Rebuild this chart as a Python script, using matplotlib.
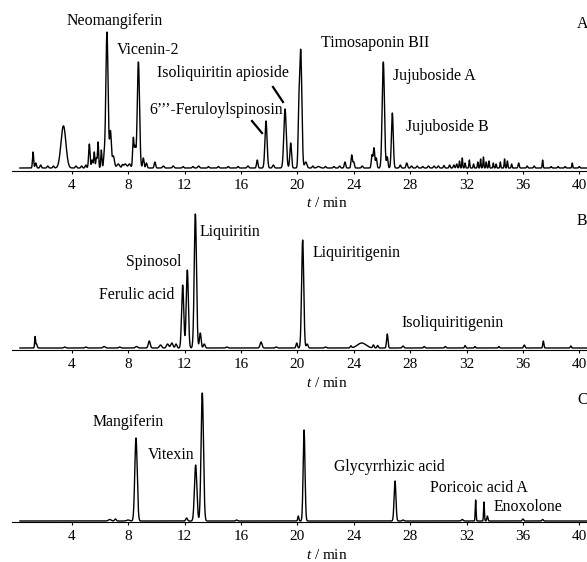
import numpy as np
import matplotlib
matplotlib.use("Agg")
import matplotlib.pyplot as plt

plt.rcParams['font.family'] = ['Liberation Serif', 'DejaVu Serif']
plt.rcParams['mathtext.fontset'] = 'custom'
plt.rcParams['mathtext.it'] = 'Liberation Serif:italic'
plt.rcParams['mathtext.rm'] = 'Liberation Serif'

# ---------------- data (retention time [min], height [a.u.], width sigma [min]) ----
peaks_a_t = [1.26, 1.45, 1.8, 2.3, 2.7, 3.3, 3.45, 4.3, 4.7, 5.0, 5.25, 5.45, 5.6, 5.75, 5.87, 6.1, 6.3,
             6.5, 6.75, 6.95, 7.3, 7.6, 7.8, 8.1, 8.37, 8.5, 8.73, 9.08, 9.3, 9.9, 10.5, 11.2, 11.9,
             12.6, 13.0, 13.7, 14.4, 15.1, 15.8, 16.5, 17.16, 17.78, 18.3, 19.13, 19.53, 20.1,
             20.24, 20.6, 21.1, 21.5, 22.0, 22.6, 23.0, 23.38, 23.86, 24.0, 24.6, 25.3, 25.44,
             25.6, 26.1, 26.38, 26.74, 27.3, 27.76, 28.1, 28.5, 28.9, 29.3, 29.7, 30.0, 30.4,
             30.8, 31.1, 31.3, 31.5, 31.7, 31.9, 32.2, 32.5, 32.8, 33.0, 33.2, 33.4, 33.6, 33.9,
             34.1, 34.4, 34.7, 34.9, 35.2, 35.7, 36.3, 36.8, 37.4, 38.0, 38.5, 39.0, 39.5, 40.0]
peaks_a_h = [16, 5, 3, 2, 2, 12, 34, 2, 2, 3, 24, 8, 16, 10, 26, 18, 10,
             136, 36, 12, 4, 3, 4, 4, 30, 20, 106, 10, 5, 6, 2, 2, 1.5,
             1.5, 2, 1.5, 1.5, 1.5, 1.5, 2, 8, 47, 3, 59, 25, 40,
             118, 6, 2, 1.5, 1.5, 1.5, 2, 6, 13, 6, 2, 13, 20,
             10, 106, 11, 55, 3, 5, 2, 2, 1.5, 2, 2, 2, 2.5,
             3, 3, 4, 7, 10, 5, 8, 4, 6, 9, 11, 6, 7, 5,
             4, 6, 9, 7, 4, 5, 2, 2, 8, 1.5, 1.5, 1.5, 5, 1.5]
peaks_a_w = [0.04, 0.05, 0.05, 0.05, 0.05, 0.15, 0.16, 0.05, 0.05, 0.05, 0.05, 0.05, 0.04, 0.04, 0.04, 0.04, 0.05,
             0.08, 0.06, 0.08, 0.1, 0.05, 0.1, 0.08, 0.05, 0.05, 0.08, 0.05, 0.05, 0.05, 0.06, 0.06, 0.05,
             0.05, 0.06, 0.05, 0.05, 0.05, 0.05, 0.06, 0.05, 0.075, 0.06, 0.085, 0.06, 0.05,
             0.08, 0.08, 0.05, 0.1, 0.05, 0.05, 0.05, 0.05, 0.05, 0.05, 0.05, 0.05, 0.05,
             0.05, 0.08, 0.05, 0.065, 0.05, 0.05, 0.05, 0.05, 0.05, 0.05, 0.05, 0.05, 0.04,
             0.04, 0.04, 0.04, 0.03, 0.03, 0.03, 0.03, 0.03, 0.03, 0.03, 0.03, 0.03, 0.03, 0.03,
             0.03, 0.03, 0.03, 0.03, 0.03, 0.04, 0.04, 0.04, 0.03, 0.04, 0.04, 0.04, 0.03, 0.04]

peaks_b_t = [1.4, 1.5, 3.5, 5.0, 6.3, 7.4, 8.6, 9.5, 10.3, 10.8, 11.1, 11.4, 11.87, 12.2, 12.77, 13.12,
             13.4, 15.0, 17.43, 18.5, 19.96, 20.38, 20.7, 22.0, 23.8, 24.57, 25.4, 25.7, 26.38, 27.5,
             29.0, 30.5, 31.9, 32.6, 34.3, 36.1, 37.45, 39.4]
peaks_b_h = [11, 4, 1, 1, 1.5, 1, 1.5, 7, 3, 4, 5, 4, 63, 78, 134, 15,
             4, 1, 6, 1, 5, 108, 4, 1, 2, 5, 3, 2.5, 14, 2,
             1.5, 1.5, 2.5, 1.5, 1.5, 3, 7, 2]
peaks_b_w = [0.03, 0.05, 0.06, 0.06, 0.08, 0.06, 0.08, 0.07, 0.08, 0.08, 0.08, 0.06, 0.075, 0.075, 0.08, 0.06,
             0.06, 0.06, 0.07, 0.06, 0.05, 0.075, 0.06, 0.06, 0.05, 0.3, 0.05, 0.05, 0.05, 0.06,
             0.05, 0.05, 0.04, 0.04, 0.04, 0.05, 0.04, 0.04]

peaks_c_t = [6.7, 7.1, 8.0, 8.56, 12.15, 12.79, 13.26, 15.7, 20.07, 20.48, 26.93, 27.5, 31.7,
             32.65, 33.24, 33.48, 36.0, 37.4]
peaks_c_h = [1.5, 2, 1, 83, 3, 56, 128, 1, 5, 91, 40, 1, 1.5, 21, 19, 5, 2, 1.5]
peaks_c_w = [0.1, 0.06, 0.1, 0.085, 0.06, 0.085, 0.085, 0.06, 0.04, 0.065, 0.065, 0.06, 0.06,
             0.03, 0.03, 0.04, 0.05, 0.05]

# annotations: (label, t, height)
labels_a = ["Neomangiferin", "Vicenin-2", "Isoliquiritin apioside", "6\u2019\u2019\u2019-Feruloylspinosin",
            "Timosaponin BII", "Jujuboside A", "Jujuboside B"]
labels_a_t = [3.66, 7.2, 10.05, 9.5, 21.7, 26.8, 27.7]
labels_a_h = [147, 118, 95, 58, 125, 92, 41]

labels_b = ["Ferulic acid", "Spinosol", "Liquiritin", "Liquiritigenin", "Isoliquiritigenin"]
labels_b_t = [5.95, 7.85, 13.1, 21.1, 27.4]
labels_b_h = [53, 86, 116, 95, 25]

labels_c = ["Mangiferin", "Vitexin", "Glycyrrhizic acid", "Poricoic acid A", "Enoxolone"]
labels_c_t = [5.5, 9.4, 22.6, 29.4, 33.95]
labels_c_h = [99, 66, 54, 33, 14]

ticks = [4, 8, 12, 16, 20, 24, 28, 32, 36, 40]
tick_labels = [str(t) for t in ticks]
panel_names = ["A", "B", "C"]

# --------------------------------------------------------------------------------
W, H = 587, 562
fig = plt.figure(figsize=(W / 100, H / 100), dpi=100)

t = np.linspace(0.33, 41, 8000)


def trace(pt, ph, pw):
    y = np.zeros_like(t)
    for a, b, c in zip(pt, ph, pw):
        y += b * np.exp(-0.5 * ((t - a) / c) ** 2)
    return y


# pixel geometry: (axis line y, top y, baseline offset px)
geom = [(171, 0, 3), (350, 180, 2), (522, 372, 1)]
x0_px, x1_px = 12, 587
px_per_min = 14.1
t0_px = 15.3
xlim = ((x0_px - t0_px) / px_per_min, (x1_px - t0_px) / px_per_min)

datasets = [
    (peaks_a_t, peaks_a_h, peaks_a_w, labels_a, labels_a_t, labels_a_h),
    (peaks_b_t, peaks_b_h, peaks_b_w, labels_b, labels_b_t, labels_b_h),
    (peaks_c_t, peaks_c_h, peaks_c_w, labels_c, labels_c_t, labels_c_h),
]
letter_y = [24, 221, 400]
xlabel_y = [203, 383, 555]

axes = []
for i, (g, d) in enumerate(zip(geom, datasets)):
    axis_y, top_y, off = g
    hpx = axis_y - top_y
    ax = fig.add_axes([x0_px / W, (H - axis_y) / H, (x1_px - x0_px) / W, hpx / H])
    ax.patch.set_alpha(0)
    ax.set_xlim(*xlim)
    ax.set_ylim(-off, hpx - off)
    y = trace(d[0], d[1], d[2])
    ax.plot(t, y, color='black', lw=1.0, clip_on=False)
    for lab, lt, lh in zip(d[3], d[4], d[5]):
        ax.text(lt, lh, lab, fontsize=11.4, ha='left', va='center', clip_on=False)
    for s in ['top', 'right', 'left']:
        ax.spines[s].set_visible(False)
    ax.spines['bottom'].set_linewidth(0.8)
    ax.set_yticks([])
    ax.set_xticks(ticks)
    ax.set_xticklabels(tick_labels)
    ax.tick_params(axis='x', direction='out', length=2.5, width=0.8, labelsize=11, pad=3)
    fig.text(327 / W, 1 - xlabel_y[i] / H, '$t$ / min', ha='center', va='center', fontsize=11)
    fig.text(577 / W, 1 - letter_y[i] / H, panel_names[i], ha='left', va='center', fontsize=11.4)
    axes.append(ax)

# indicator lines in panel A
axA = axes[0]
for (ta, ha_), (tb, hb) in [(((273 - t0_px) / px_per_min, 171 - 3 - 87), ((283 - t0_px) / px_per_min, 171 - 3 - 102)),
                            (((252 - t0_px) / px_per_min, 171 - 3 - 121), ((262 - t0_px) / px_per_min, 171 - 3 - 133))]:
    axA.plot([ta, tb], [ha_, hb], color='black', lw=1.6, clip_on=False)

fig.savefig("out.png", dpi=100)
